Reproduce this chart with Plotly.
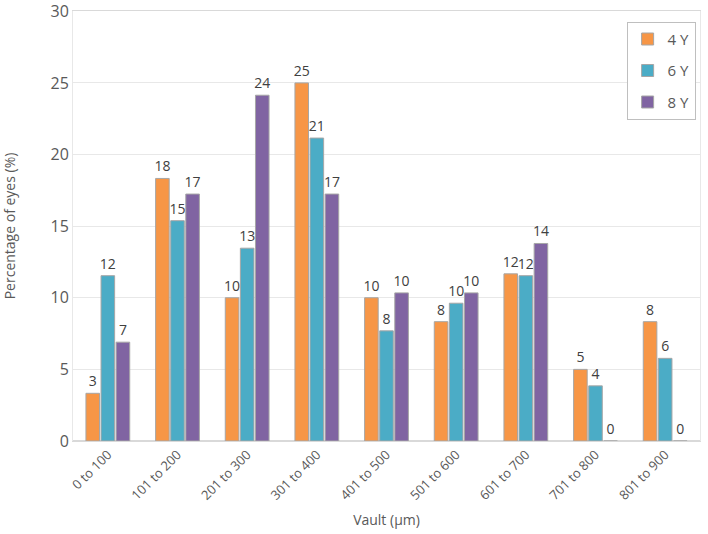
import plotly.graph_objects as go

categories = ["0 to 100", "101 to 200", "201 to 300", "301 to 400", "401 to 500",
              "501 to 600", "601 to 700", "701 to 800", "801 to 900"]
y4 = [3.33, 18.33, 10.0, 25.0, 10.0, 8.33, 11.67, 5.0, 8.33]
y6 = [11.54, 15.38, 13.46, 21.15, 7.69, 9.62, 11.54, 3.85, 5.77]
y8 = [6.90, 17.24, 24.14, 17.24, 10.34, 10.34, 13.79, 0.0, 0.0]
series_names = ["4 Y", "6 Y", "8 Y"]
colors = ["#F79646", "#4BACC6", "#8064A2"]

FONT = "'Open Sans', Lato, sans-serif"
fig = go.Figure()
for name, vals, c in zip(series_names, [y4, y6, y8], colors):
    fig.add_trace(go.Bar(
        name=name, x=categories, y=vals, legendgroup=name,
        marker=dict(color=c, line=dict(color="#A6A6A6", width=1)),
        text=[f"{v:.0f}" for v in vals], textposition="outside",
        constraintext="none",
        textfont=dict(size=14, color="#404040", family=FONT),
        cliponaxis=False,
    ))

fig.update_layout(
    width=708, height=534,
    margin=dict(l=73, r=8, t=11, b=93),
    paper_bgcolor="white", plot_bgcolor="white",
    barmode="group", bargap=0.35, bargroupgap=0.1,
    font=dict(family=FONT, size=14, color="#595959"),
    legend=dict(x=0.993, y=0.975, xanchor="right", yanchor="top",
                bordercolor="#BFBFBF", borderwidth=1, bgcolor="white",
                font=dict(size=15, color="#595959"), tracegroupgap=9,
                traceorder="grouped", itemwidth=30),
    showlegend=True,
)
fig.update_xaxes(
    title=dict(text="Vault (µm)", font=dict(size=14, color="#595959"), standoff=12),
    tickangle=-45, tickfont=dict(size=13, color="#595959"),
    showline=True, linecolor="#D9D9D9", mirror=True, ticks="", automargin=False,
)
fig.update_yaxes(
    title=dict(text="Percentage of eyes (%)", font=dict(size=14, color="#595959"), standoff=36),
    range=[0, 30.02], tickvals=[0, 5, 10, 15, 20, 25, 30], tickfont=dict(size=16, color="#595959"),
    ticklabeloverflow="allow",
    showgrid=True, gridcolor="#E8E8E8", zeroline=True, zerolinecolor="#D9D9D9",
    showline=True, linecolor="#E8E8E8", mirror=True, ticks="", automargin=False,
)
fig.write_html("out.html", config={"displayModeBar": False},
               post_script="document.body.style.margin='0';")
